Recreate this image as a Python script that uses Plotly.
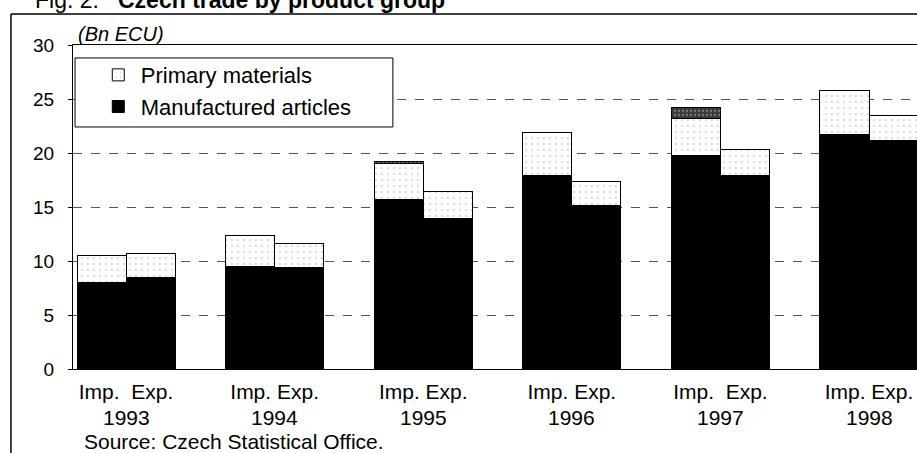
import plotly.graph_objects as go

years = ["1993", "1994", "1995", "1996", "1997", "1998"]
group_labels = ["Imp.\u00a0\u00a0Exp.", "Imp. Exp.", "Imp. Exp.", "Imp. Exp.",
                "Imp.\u00a0\u00a0Exp.", "Imp. Exp."]

imp_manufactured = [8.0, 9.5, 15.7, 17.9, 19.8, 21.7]
imp_primary = [2.5, 2.9, 3.3, 4.0, 3.4, 4.1]
imp_other = [0.0, 0.0, 0.2, 0.0, 1.0, 0.0]

exp_manufactured = [8.5, 9.4, 13.9, 15.1, 17.9, 21.2]
exp_primary = [2.2, 2.2, 2.5, 2.3, 2.4, 2.3]
exp_other = [0.0, 0.0, 0.0, 0.0, 0.0, 0.0]

y_ticks = [0, 5, 10, 15, 20, 25, 30]

FONT = "Liberation Sans, Arial, sans-serif"
n = len(years)
off = 0.165
xs_imp = [i - off for i in range(n)]
xs_exp = [i + off for i in range(n)]
xs = xs_imp + xs_exp

fig = go.Figure()
fig.add_trace(go.Bar(
    x=xs, y=imp_manufactured + exp_manufactured, width=2 * off,
    name="Manufactured articles", legendrank=2,
    marker=dict(color="black", line=dict(color="black", width=1)),
))
fig.add_trace(go.Bar(
    x=xs, y=imp_primary + exp_primary, width=2 * off,
    name="Primary materials", legendrank=1,
    marker=dict(color="white", line=dict(color="black", width=1),
                pattern=dict(shape=".", bgcolor="white", fgcolor="#9a9a9a",
                             size=6, solidity=0.08)),
))
fig.add_trace(go.Bar(
    x=xs, y=imp_other + exp_other, width=2 * off,
    name="Other", showlegend=False,
    marker=dict(color="#444444", line=dict(color="black", width=1),
                pattern=dict(shape=".", bgcolor="#3a3a3a", fgcolor="#bdbdbd",
                             size=4, solidity=0.25)),
))

annotations = []
for i, yr in enumerate(years):
    annotations.append(dict(x=i, y=-0.151, xref="x", yref="paper", text=yr,
                            showarrow=False, font=dict(size=21, family=FONT, color="black"),
                            xanchor="center", yanchor="middle"))
annotations.append(dict(x=0.0107, y=-0.2245, xref="paper", yref="paper",
                        text="Source: Czech Statistical Office.", showarrow=False,
                        font=dict(size=21, family=FONT, color="black"),
                        xanchor="left", yanchor="middle"))
annotations.append(dict(x=0.004, y=1.034, xref="paper", yref="paper",
                        text="<i>(Bn ECU)</i>", showarrow=False,
                        font=dict(size=20, family=FONT, color="black"),
                        xanchor="left", yanchor="middle"))
annotations.append(dict(x=(33 - 73) / 844, y=1.138, xref="paper", yref="paper",
                        text="Fig. 2:", showarrow=False,
                        font=dict(size=23, family=FONT, color="black"),
                        xanchor="left", yanchor="middle"))
annotations.append(dict(x=(116 - 73) / 844, y=1.138, xref="paper", yref="paper",
                        text="<b>Czech trade by product group</b>", showarrow=False,
                        font=dict(size=23, family=FONT, color="black"),
                        xanchor="left", yanchor="middle"))

shapes = [
    # outer frame
    dict(type="line", xref="paper", yref="paper", x0=-0.0735, x1=1.01, y0=1.0957, y1=1.0957,
         line=dict(color="black", width=1.5)),
    dict(type="line", xref="paper", yref="paper", x0=-0.0735, x1=-0.0735, y0=1.0957, y1=-0.27,
         line=dict(color="black", width=1.5)),
    # legend box
    dict(type="rect", xref="paper", yref="paper", x0=0.0024, x1=0.379, y0=0.747, y1=0.960,
         line=dict(color="black", width=1), fillcolor="white", layer="above"),
]

fig.update_layout(
    width=917, height=453,
    margin=dict(l=73, r=0, t=45, b=84, autoexpand=False),
    barmode="stack",
    plot_bgcolor="white", paper_bgcolor="white",
    font=dict(family=FONT, size=18, color="black"),
    showlegend=True,
    legend=dict(x=0.027, y=0.972, xanchor="left", yanchor="top",
                bgcolor="rgba(0,0,0,0)", borderwidth=0, traceorder="normal",
                font=dict(size=22, family=FONT, color="black"),
                itemwidth=35),
    xaxis=dict(range=[-0.357, 5.323], tickvals=list(range(n)),
               ticktext=group_labels, automargin=False,
               showgrid=False, zeroline=False, showline=True, linecolor="black",
               linewidth=1, mirror=True, ticks="", ticklabelstandoff=4,
               tickfont=dict(size=21, family=FONT, color="black")),
    yaxis=dict(range=[0, 30], tickvals=y_ticks, showgrid=True, gridcolor="#555555",
               griddash="dash", gridwidth=1, zeroline=False, showline=True,
               linecolor="black", linewidth=1, ticks="outside", ticklen=4,
               tickcolor="black", ticklabelstandoff=10, automargin=False,
               tickfont=dict(size=19, family=FONT, color="black")),
    annotations=annotations,
    shapes=shapes,
)

fig.write_html(
    "out.html",
    config={"displayModeBar": False},
    post_script="document.body.style.margin='0';document.body.style.overflow='hidden';",
)
